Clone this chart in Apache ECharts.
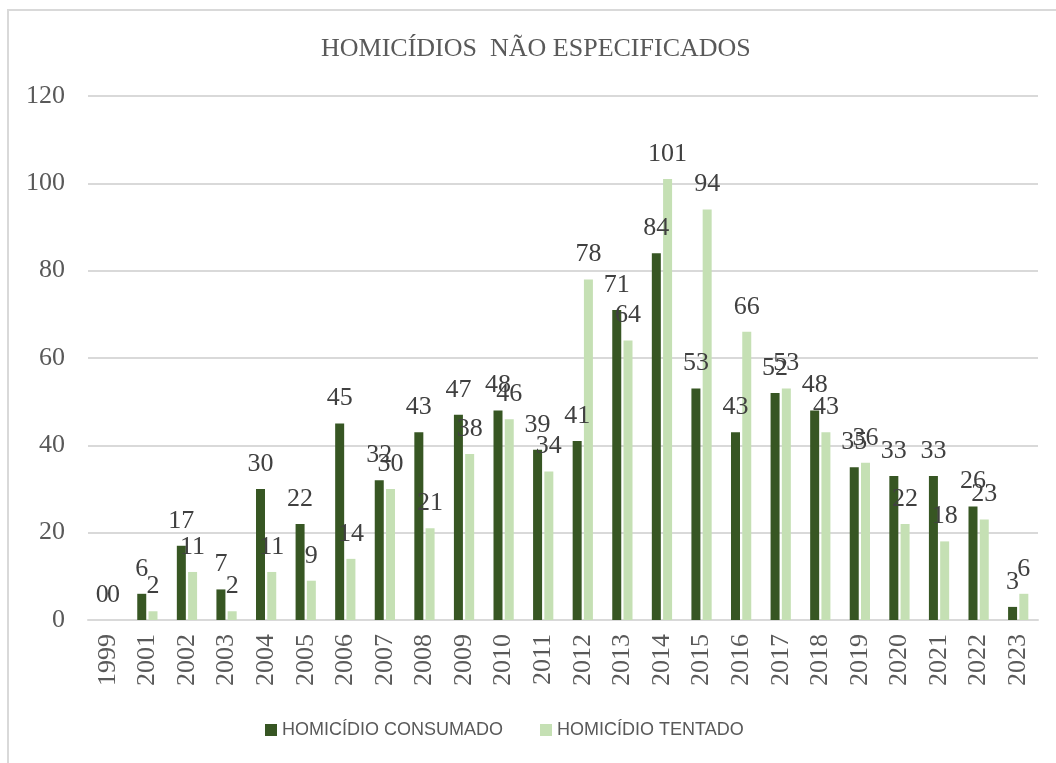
<!DOCTYPE html>
<html><head><meta charset="utf-8">
<script src="https://cdn.jsdelivr.net/npm/echarts@6/dist/echarts.min.js"></script>
<style>html,body{margin:0;padding:0;background:#fff}#c{width:1056px;height:763px}</style>
</head><body><div id="c"></div>
<script>
const years = ['1999','2001','2002','2003','2004','2005','2006','2007','2008','2009','2010','2011','2012','2013','2014','2015','2016','2017','2018','2019','2020','2021','2022','2023'];
const consumado = [0,6,17,7,30,22,45,32,43,47,48,39,41,71,84,53,43,52,48,35,33,33,26,3];
const tentado = [0,2,11,2,11,9,14,30,21,38,46,34,78,64,101,94,66,53,43,36,22,18,23,6];
const seriesNames = ['HOMICÍDIO CONSUMADO','HOMICÍDIO TENTADO'];
const yTicks = {min:0, max:120, interval:20};

const serif = '"Liberation Serif", "DejaVu Serif", serif';
const labelStyle = {show:true, position:'top', distance:12, color:'#404040', fontFamily:serif, fontSize:26};
const chart = echarts.init(document.getElementById('c'));
chart.setOption({
  animation:false,
  graphic:[{type:'rect', shape:{x:8,y:10,width:1200,height:900}, style:{fill:'none', stroke:'#d9d9d9', lineWidth:2}, silent:true}],
  title:{text:'HOMICÍDIOS  NÃO ESPECIFICADOS', left:316, top:31, textStyle:{fontFamily:serif, fontSize:26, fontWeight:'normal', color:'#595959'}},
  grid:{left:88, right:18, top:96, bottom:143},
  legend:{bottom:19, left:260, itemWidth:12, itemHeight:12, itemGap:37, icon:'rect',
    textStyle:{fontFamily:'"Liberation Sans", Arial, sans-serif', fontSize:18, color:'#595959'}},
  xAxis:{type:'category', data:years, axisTick:{show:false}, axisLine:{lineStyle:{color:'#d9d9d9', width:2}},
    axisLabel:{rotate:90, margin:14, color:'#595959', fontFamily:serif, fontSize:26}},
  yAxis:{type:'value', min:yTicks.min, max:yTicks.max, interval:yTicks.interval,
    axisLine:{show:false}, axisTick:{show:false}, splitLine:{lineStyle:{color:'#d9d9d9', width:2}},
    axisLabel:{margin:23, color:'#595959', fontFamily:serif, fontSize:26}},
  series:[
    {name:seriesNames[0], type:'bar', data:consumado, barWidth:9, barGap:'25%', itemStyle:{color:'#375623'}, label:labelStyle},
    {name:seriesNames[1], type:'bar', data:tentado, barWidth:9, itemStyle:{color:'#c5e0b4'}, label:labelStyle}
  ]
});
</script></body></html>
